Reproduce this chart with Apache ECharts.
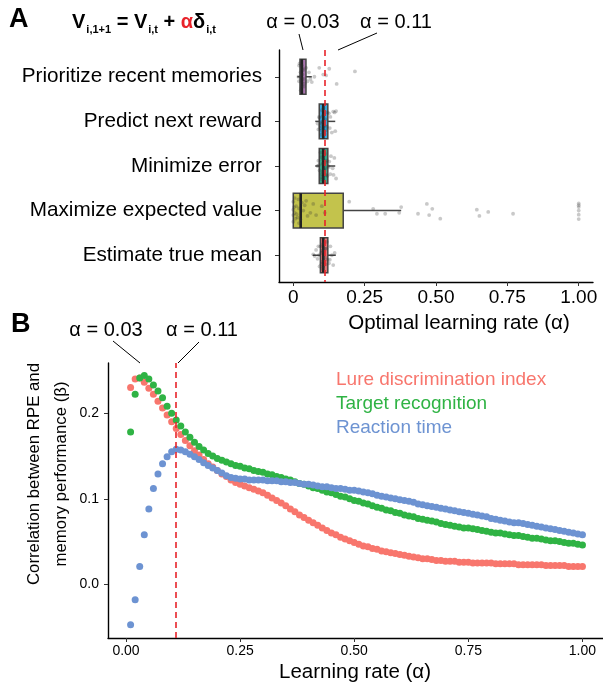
<!DOCTYPE html>
<html>
<head>
<meta charset="utf-8">
<script src="https://cdn.jsdelivr.net/npm/echarts@6/dist/echarts.min.js"></script>
<style>
  html, body { margin: 0; padding: 0; background: #fff; }
  #chart { width: 603px; height: 687px; }
</style>
</head>
<body>
<div id="chart"></div>
<script>
// ---- panel A : optimal learning rate per objective ----
const objectives = ['Prioritize recent memories', 'Predict next reward', 'Minimize error',
  'Maximize expected value', 'Estimate true mean'];
const boxLow = [0.014, 0.077, 0.077, 0.0, 0.068];
const boxQ1 = [0.0235, 0.091, 0.091, 0.0, 0.095];
const boxMed = [0.03, 0.105, 0.105, 0.026, 0.105];
const boxQ3 = [0.0445, 0.121, 0.121, 0.175, 0.121];
const boxHigh = [0.065, 0.147, 0.147, 0.378, 0.149];
const topTicks = [0, 0.25, 0.5, 0.75, 1];
const topTickLabels = ['0', '0.25', '0.50', '0.75', '1.00'];

// jittered simulation points (value, vertical jitter)
const prioritizeX = [0.02, 0.025, 0.03, 0.03, 0.035, 0.02, 0.028, 0.032, 0.04, 0.045, 0.022, 0.026, 0.03, 0.036, 0.018,
  0.05, 0.055, 0.06, 0.065, 0.074, 0.091, 0.105, 0.115, 0.126, 0.152, 0.216, 0.03, 0.033, 0.027, 0.038];
const prioritizeJ = [-0.25, -0.1, 0.05, 0.2, -0.15, 0.1, 0.25, -0.05, 0.15, -0.2, -0.3, 0.3, -0.25, 0.05, 0.0,
  0.1, -0.1, 0.05, 0.12, 0.0, -0.2, -0.05, -0.03, -0.18, 0.16, -0.12, 0.12, -0.18, 0.0, 0.22];
const predictX = [0.09, 0.095, 0.1, 0.1, 0.105, 0.108, 0.11, 0.112, 0.115, 0.12, 0.098, 0.102, 0.106, 0.1, 0.094,
  0.118, 0.125, 0.13, 0.14, 0.145, 0.15, 0.147, 0.085, 0.088, 0.092, 0.135, 0.128, 0.11, 0.103, 0.097];
const predictJ = [-0.1, 0.15, -0.25, 0.05, 0.25, -0.15, 0.1, -0.05, 0.2, -0.2, 0.3, 0.0, -0.3, 0.2, 0.1,
  0.12, -0.18, -0.1, -0.22, -0.2, -0.23, 0.22, 0.05, 0.18, -0.08, 0.25, 0.15, 0.28, -0.12, 0.02];
const minimizeX = [0.092, 0.097, 0.1, 0.103, 0.106, 0.109, 0.112, 0.115, 0.118, 0.122, 0.095, 0.1, 0.105, 0.108, 0.09,
  0.12, 0.126, 0.13, 0.138, 0.144, 0.15, 0.085, 0.088, 0.132, 0.11, 0.104, 0.098, 0.114, 0.141, 0.125];
const minimizeJ = [0.1, -0.2, 0.25, -0.05, 0.15, -0.25, 0.05, 0.2, -0.12, 0.0, -0.3, 0.3, -0.15, 0.08, -0.02,
  0.22, -0.1, 0.18, 0.05, -0.18, 0.28, 0.0, -0.12, -0.22, -0.28, 0.12, 0.18, -0.08, 0.2, 0.02];
const maximizeX = [0.0, 0.0, 0.005, 0.01, 0.0, 0.015, 0.02, 0.025, 0.03, 0.0, 0.005, 0.012, 0.04, 0.05, 0.06,
  0.07, 0.08, 0.1, 0.11, 0.02, 0.035, 0.045, 0.008, 0.003, 0.018, 0.196, 0.28, 0.293, 0.322, 0.371, 0.378,
  0.437, 0.468, 0.476, 0.487, 0.515, 0.643, 0.652, 0.683, 0.77, 1.0, 1.0, 1.0, 1.0, 1.0, 1.0];
const maximizeJ = [-0.2, 0.1, 0.05, -0.1, 0.25, 0.15, -0.05, 0.2, -0.18, -0.02, -0.28, 0.08, -0.12, 0.12, 0.05,
  -0.15, 0.1, -0.1, 0.05, 0.28, 0.0, -0.22, 0.18, -0.08, -0.25, -0.2, -0.04, 0.07, 0.07, 0.05, -0.08,
  0.07, -0.15, 0.1, -0.04, 0.18, -0.02, 0.12, 0.03, 0.07, -0.16, -0.12, -0.08, 0.0, 0.09, 0.19];
const estimateX = [0.09, 0.095, 0.1, 0.102, 0.105, 0.108, 0.11, 0.113, 0.116, 0.12, 0.097, 0.1, 0.104, 0.107, 0.085,
  0.08, 0.075, 0.07, 0.125, 0.13, 0.135, 0.14, 0.145, 0.092, 0.111, 0.118, 0.099, 0.106, 0.128, 0.088];
const estimateJ = [0.0, -0.2, 0.15, -0.1, 0.25, -0.28, 0.05, 0.2, -0.15, 0.1, -0.05, 0.3, -0.25, 0.12, 0.08,
  -0.12, 0.02, -0.02, 0.18, -0.2, 0.0, 0.22, -0.05, 0.25, -0.15, -0.3, 0.2, -0.08, 0.1, -0.2];

// ---- panel B : correlation between RPE and memory performance ----
const learningRate = [0.01, 0.02, 0.03, 0.04, 0.05, 0.06, 0.07, 0.08, 0.09, 0.10,
  0.11, 0.12, 0.13, 0.14, 0.15, 0.16, 0.17, 0.18, 0.19, 0.20,
  0.21, 0.22, 0.23, 0.24, 0.25, 0.26, 0.27, 0.28, 0.29, 0.30,
  0.31, 0.32, 0.33, 0.34, 0.35, 0.36, 0.37, 0.38, 0.39, 0.40,
  0.41, 0.42, 0.43, 0.44, 0.45, 0.46, 0.47, 0.48, 0.49, 0.50,
  0.51, 0.52, 0.53, 0.54, 0.55, 0.56, 0.57, 0.58, 0.59, 0.60,
  0.61, 0.62, 0.63, 0.64, 0.65, 0.66, 0.67, 0.68, 0.69, 0.70,
  0.71, 0.72, 0.73, 0.74, 0.75, 0.76, 0.77, 0.78, 0.79, 0.80,
  0.81, 0.82, 0.83, 0.84, 0.85, 0.86, 0.87, 0.88, 0.89, 0.90,
  0.91, 0.92, 0.93, 0.94, 0.95, 0.96, 0.97, 0.98, 0.99, 1.00];
const lureDiscrimination = [0.230, 0.240, 0.241, 0.236, 0.229, 0.222, 0.214, 0.206, 0.198, 0.190,
  0.182, 0.175, 0.168, 0.162, 0.156, 0.151, 0.146, 0.141, 0.137, 0.133,
  0.129, 0.126, 0.122, 0.119, 0.117, 0.115, 0.113, 0.111, 0.109, 0.107,
  0.104, 0.101, 0.098, 0.095, 0.092, 0.088, 0.085, 0.081, 0.078, 0.075,
  0.072, 0.069, 0.066, 0.063, 0.060, 0.058, 0.055, 0.053, 0.051, 0.049,
  0.047, 0.045, 0.044, 0.042, 0.041, 0.039, 0.038, 0.037, 0.036, 0.035,
  0.034, 0.033, 0.032, 0.031, 0.030, 0.030, 0.029, 0.028, 0.028, 0.027,
  0.027, 0.027, 0.026, 0.026, 0.026, 0.025, 0.025, 0.025, 0.025, 0.025,
  0.024, 0.024, 0.024, 0.024, 0.024, 0.023, 0.023, 0.023, 0.023, 0.023,
  0.023, 0.022, 0.022, 0.022, 0.022, 0.022, 0.021, 0.021, 0.021, 0.021];
const targetRecognition = [0.178, 0.222, 0.241, 0.244, 0.240, 0.233, 0.226, 0.218, 0.208, 0.200,
  0.192, 0.185, 0.178, 0.172, 0.166, 0.161, 0.157, 0.153, 0.150, 0.147,
  0.145, 0.143, 0.141, 0.139, 0.138, 0.136, 0.135, 0.133, 0.132, 0.131,
  0.129, 0.128, 0.126, 0.125, 0.123, 0.122, 0.120, 0.118, 0.117, 0.115,
  0.113, 0.112, 0.110, 0.108, 0.107, 0.105, 0.103, 0.102, 0.100, 0.098,
  0.097, 0.095, 0.094, 0.092, 0.090, 0.089, 0.087, 0.086, 0.084, 0.083,
  0.081, 0.080, 0.079, 0.077, 0.076, 0.075, 0.074, 0.073, 0.071, 0.070,
  0.069, 0.068, 0.067, 0.066, 0.066, 0.065, 0.064, 0.063, 0.062, 0.061,
  0.060, 0.060, 0.059, 0.058, 0.057, 0.057, 0.056, 0.055, 0.054, 0.054,
  0.053, 0.052, 0.051, 0.051, 0.050, 0.049, 0.048, 0.048, 0.047, 0.046];
const reactionTime = [-0.047, -0.018, 0.021, 0.058, 0.088, 0.112, 0.129, 0.141, 0.149, 0.155,
  0.158, 0.157, 0.155, 0.152, 0.149, 0.146, 0.142, 0.139, 0.136, 0.133,
  0.130, 0.127, 0.125, 0.124, 0.123, 0.123, 0.122, 0.122, 0.122, 0.122,
  0.121, 0.121, 0.121, 0.120, 0.120, 0.119, 0.119, 0.118, 0.117, 0.117,
  0.116, 0.115, 0.114, 0.114, 0.113, 0.112, 0.112, 0.111, 0.110, 0.110,
  0.109, 0.108, 0.107, 0.106, 0.104, 0.103, 0.102, 0.101, 0.100, 0.099,
  0.098, 0.097, 0.096, 0.094, 0.093, 0.092, 0.091, 0.090, 0.089, 0.088,
  0.087, 0.086, 0.085, 0.084, 0.083, 0.082, 0.081, 0.080, 0.079, 0.077,
  0.076, 0.075, 0.074, 0.073, 0.072, 0.072, 0.071, 0.070, 0.069, 0.068,
  0.067, 0.066, 0.065, 0.064, 0.063, 0.062, 0.061, 0.060, 0.059, 0.058];
const bottomXTicks = [0, 0.25, 0.5, 0.75, 1];
const bottomXLabels = ['0.00', '0.25', '0.50', '0.75', '1.00'];
const bottomYTicks = [0, 0.1, 0.2];
const bottomYLabels = ['0.0', '0.1', '0.2'];

const optimalAlpha = 0.107;

const FONT = 'Liberation Sans, Arial, sans-serif';
const boxColors = ['#ab76b0', '#3aa9dd', '#3aa586', '#c3c34c', '#e27575'];

const chart = echarts.init(document.getElementById('chart'), null, { renderer: 'canvas' });

const jitterPoints = [];
[[prioritizeX, prioritizeJ], [predictX, predictJ], [minimizeX, minimizeJ],
 [maximizeX, maximizeJ], [estimateX, estimateJ]].forEach(function (pair, i) {
  for (let k = 0; k < pair[0].length; k++) {
    jitterPoints.push([pair[0][k], i + pair[1][k]]);
  }
});

const boxData = objectives.map(function (name, i) {
  return [i, boxLow[i], boxQ1[i], boxMed[i], boxQ3[i], boxHigh[i]];
});

function pairs(ys) {
  return learningRate.map(function (x, i) { return [x, ys[i]]; });
}

const axisLineStyle = { show: true, onZero: false, lineStyle: { color: '#000', width: 1.4 } };
const redLine = {
  symbol: 'none', silent: true, label: { show: false },
  lineStyle: { color: '#e8232a', type: [6, 4], width: 1.6 },
  data: [{ xAxis: optimalAlpha }]
};

const option = {
  animation: false,
  textStyle: { fontFamily: FONT },
  grid: [
    { left: 279, right: 10, top: 50, height: 232 },
    { left: 108, right: 0, top: 363, height: 275 }
  ],
  xAxis: [
    {
      gridIndex: 0, type: 'value', min: -0.05, max: 1.05,
      axisLine: axisLineStyle,
      axisTick: { show: true, customValues: topTicks, length: 4, lineStyle: { color: '#333' } },
      axisLabel: {
        customValues: topTicks, color: '#000', fontSize: 19, margin: 6,
        formatter: function (v) { return topTickLabels[topTicks.indexOf(v)]; }
      },
      splitLine: { show: false }
    },
    {
      gridIndex: 1, type: 'value', min: -0.0395, max: 1.045,
      axisLine: axisLineStyle,
      axisTick: { show: true, customValues: bottomXTicks, length: 4, lineStyle: { color: '#333' } },
      axisLabel: {
        customValues: bottomXTicks, color: '#000', fontSize: 14, margin: 6,
        formatter: function (v) { return bottomXLabels[bottomXTicks.indexOf(v)]; }
      },
      splitLine: { show: false }
    }
  ],
  yAxis: [
    {
      gridIndex: 0, type: 'value', min: -0.6, max: 4.6, inverse: true,
      axisLine: axisLineStyle,
      axisTick: { show: true, customValues: [0, 1, 2, 3, 4], length: 4, lineStyle: { color: '#333' } },
      axisLabel: {
        customValues: [0, 1, 2, 3, 4], color: '#000', fontSize: 20.7, margin: 17,
        formatter: function (v) { return objectives[Math.round(v)]; }
      },
      splitLine: { show: false }
    },
    {
      gridIndex: 1, type: 'value', min: -0.0626, max: 0.2586,
      axisLine: axisLineStyle,
      axisTick: { show: true, customValues: bottomYTicks, length: 4, lineStyle: { color: '#333' } },
      axisLabel: {
        customValues: bottomYTicks, color: '#000', fontSize: 14, margin: 9,
        formatter: function (v) { return bottomYLabels[bottomYTicks.indexOf(v)]; }
      },
      splitLine: { show: false }
    }
  ],
  legend: {
    orient: 'vertical', left: 326, top: 365, itemGap: 5,
    itemWidth: 0, itemHeight: 0, selectedMode: false,
    textStyle: { fontSize: 19 },
    data: [
      { name: 'Lure discrimination index', textStyle: { color: '#F8766D' } },
      { name: 'Target recognition', textStyle: { color: '#2fb344' } },
      { name: 'Reaction time', textStyle: { color: '#6d93d2' } }
    ]
  },
  series: [
    {
      type: 'custom', xAxisIndex: 0, yAxisIndex: 0, silent: true,
      encode: { x: [1, 2, 3, 4, 5], y: 0 },
      data: boxData,
      renderItem: function (params, api) {
        const i = api.value(0);
        const yc = api.coord([0, i])[1];
        const h = api.size([0, 0.78])[1];
        const px = function (k) { return api.coord([api.value(k), i])[0]; };
        const lo = px(1), q1 = px(2), med = px(3), q3 = px(4), hi = px(5);
        const edge = { stroke: '#444', lineWidth: 1.5 };
        return {
          type: 'group',
          children: [
            { type: 'line', shape: { x1: lo, y1: yc, x2: q1, y2: yc }, style: edge },
            { type: 'line', shape: { x1: q3, y1: yc, x2: hi, y2: yc }, style: edge },
            { type: 'rect', shape: { x: q1, y: yc - h / 2, width: q3 - q1, height: h },
              style: { fill: boxColors[i], stroke: '#444', lineWidth: 1.5 } },
            { type: 'line', shape: { x1: med, y1: yc - h / 2, x2: med, y2: yc + h / 2 },
              style: { stroke: '#222', lineWidth: 2.6 } }
          ]
        };
      }
    },
    {
      type: 'scatter', xAxisIndex: 0, yAxisIndex: 0, silent: true,
      symbolSize: 3.8,
      itemStyle: { color: 'rgba(50,50,50,0.33)' },
      data: jitterPoints,
      markLine: redLine, z: 3
    },
    {
      name: 'Lure discrimination index', type: 'scatter', xAxisIndex: 1, yAxisIndex: 1,
      symbolSize: 7, itemStyle: { color: '#F8766D', opacity: 1 },
      data: pairs(lureDiscrimination),
      markLine: redLine
    },
    {
      name: 'Target recognition', type: 'scatter', xAxisIndex: 1, yAxisIndex: 1,
      symbolSize: 7, itemStyle: { color: '#2fb344', opacity: 1 },
      data: pairs(targetRecognition)
    },
    {
      name: 'Reaction time', type: 'scatter', xAxisIndex: 1, yAxisIndex: 1,
      symbolSize: 7, itemStyle: { color: '#6d93d2', opacity: 1 },
      data: pairs(reactionTime)
    }
  ],
  graphic: [
    { type: 'text', left: 9, top: 6, style: { text: 'A', fontSize: 27, fontWeight: 'bold', fontFamily: FONT, fill: '#000' } },
    { type: 'text', left: 11, top: 311, style: { text: 'B', fontSize: 27, fontWeight: 'bold', fontFamily: FONT, fill: '#000' } },
    {
      type: 'text', left: 72, top: 12,
      style: {
        text: '{v|V}{s|i,1+1}{v| = V}{s|i,t}{v| + }{r|α}{v|δ}{s|i,t}',
        rich: {
          v: { fontSize: 20, fontWeight: 'bold', fontFamily: FONT, fill: '#000', lineHeight: 26, verticalAlign: 'middle' },
          r: { fontSize: 20, fontWeight: 'bold', fontFamily: FONT, fill: '#e8232a', lineHeight: 26, verticalAlign: 'middle' },
          s: { fontSize: 11, fontWeight: 'bold', fontFamily: FONT, fill: '#000', lineHeight: 26, verticalAlign: 'bottom', padding: [0, 0, 0, 1] }
        }
      }
    },
    { type: 'text', x: 303, y: 22, style: { text: 'α = 0.03', fontSize: 20, fontFamily: FONT, fill: '#000', align: 'center', verticalAlign: 'middle' } },
    { type: 'text', x: 396, y: 22, style: { text: 'α = 0.11', fontSize: 20, fontFamily: FONT, fill: '#000', align: 'center', verticalAlign: 'middle' } },
    { type: 'line', shape: { x1: 299, y1: 34, x2: 303, y2: 50 }, style: { stroke: '#000', lineWidth: 1 } },
    { type: 'line', shape: { x1: 338, y1: 50, x2: 377, y2: 33 }, style: { stroke: '#000', lineWidth: 1 } },
    { type: 'text', x: 106, y: 330, style: { text: 'α = 0.03', fontSize: 20, fontFamily: FONT, fill: '#000', align: 'center', verticalAlign: 'middle' } },
    { type: 'text', x: 202, y: 330, style: { text: 'α = 0.11', fontSize: 20, fontFamily: FONT, fill: '#000', align: 'center', verticalAlign: 'middle' } },
    { type: 'line', shape: { x1: 113, y1: 341, x2: 140, y2: 363 }, style: { stroke: '#000', lineWidth: 1 } },
    { type: 'line', shape: { x1: 178, y1: 363, x2: 199, y2: 342 }, style: { stroke: '#000', lineWidth: 1 } },
    { type: 'text', x: 459, y: 323, style: { text: 'Optimal learning rate (α)', fontSize: 20.5, fontFamily: FONT, fill: '#000', align: 'center', verticalAlign: 'middle' } },
    { type: 'text', x: 355, y: 672, style: { text: 'Learning rate (α)', fontSize: 20.5, fontFamily: FONT, fill: '#000', align: 'center', verticalAlign: 'middle' } },
    {
      type: 'text', x: 48, y: 474, rotation: Math.PI / 2,
      style: {
        text: 'Correlation between RPE and\nmemory performance (β)', fontSize: 16.8, lineHeight: 27,
        fontFamily: FONT, fill: '#000', align: 'center', verticalAlign: 'middle'
      }
    }
  ]
};

chart.setOption(option);
</script>
</body>
</html>
